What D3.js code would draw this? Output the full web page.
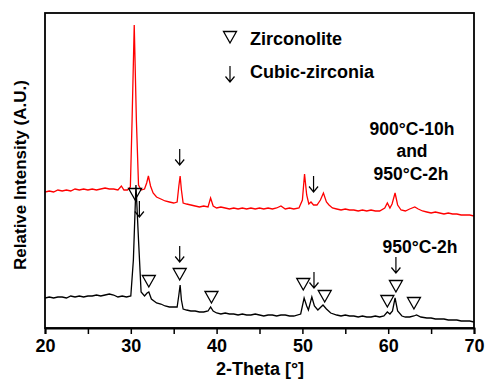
<!DOCTYPE html>
<html>
<head>
<meta charset="utf-8">
<script src="https://cdn.jsdelivr.net/npm/d3@7"></script>
<style>
  html, body { margin: 0; padding: 0; background: #fff; }
  svg { display: block; }
  text { font-family: Arial, "Liberation Sans", sans-serif; font-weight: bold; fill: #000; }
</style>
</head>
<body>
<script>
// ---- data (2-Theta in degrees, intensity in arbitrary units) ----
const redTheta = [20,20.5,21,21.5,22,22.5,23,23.5,24,24.5,25,25.5,26,26.5,27,27.5,28,28.5,28.9,29.2,29.6,29.95,30.15,30.4,30.65,30.9,31.2,31.6,31.85,32.05,32.3,32.6,33,33.5,34,34.5,35,35.4,35.6,35.75,35.9,36.1,36.5,37,37.5,38,38.5,39,39.3,39.6,40,40.5,41,41.5,42,42.5,43,43.5,44,44.5,45,45.5,46,46.5,47,47.5,48,48.5,49,49.6,50,50.25,50.5,50.75,51,51.3,51.7,52.1,52.45,52.8,53.1,53.5,54,54.5,55,55.5,56,56.5,57,57.5,58,58.5,59,59.6,59.9,60.2,60.45,60.8,61.1,61.5,62,62.5,63.1,63.5,64,64.5,65,65.5,66,66.5,67,67.5,68,68.5,69,69.5,70];
const redIntensity = [136,137,136,138,137,138,137,139,138,139,138,139,138,139,140,139,139,138,142,138,138,141,208,303,208,143,138,139,145,152,142,135,131,129,127,126,125,126,142,152,138,125,124,123,122,121,122,121,130,122,120,121,120,119,120,119,120,119,120,119,120,119,120,119,120,122,119,120,119,120,128,154,133,124,126,123,123,128,135,126,123,120,119,118,119,118,118,117,118,117,118,117,117,120,125,120,124,135,123,118,117,119,121,119,117,116,115,116,115,114,115,114,114,113,113,113,112];

const blackTheta = [20,20.5,21,21.5,22,22.5,23,23.5,24,24.5,25,25.5,26,26.5,27,27.5,28,28.5,29,29.5,30,30.3,30.6,30.9,31.2,31.6,31.9,32.1,32.4,33,33.5,34,34.5,35,35.4,35.6,35.75,35.9,36.1,36.5,37,37.5,38,38.5,39,39.3,39.6,40,40.5,41,41.5,42,42.5,43,43.5,44,44.5,45,45.5,46,46.5,47,47.5,48,48.5,49,49.8,50.2,50.5,50.7,51.1,51.4,51.8,52.4,52.8,53.3,54,54.5,55,55.5,56,56.5,57,57.5,58,58.5,59,59.5,59.9,60.2,60.5,60.8,61.1,61.6,62,62.5,63,63.3,63.8,64.5,65,65.5,66,66.5,67,67.5,68,68.5,69,69.5,70];
const blackIntensity = [30,31,30,31,31,30,32,31,32,31,32,32,33,32,33,34,33,31,32,31,32,68,143,88,36,32,35,36,29,25,24,22,21,21,21,33,43,28,19,18,17,17,16,16,17,21,17,15,14,15,14,14,13,14,13,13,14,13,12,13,13,12,13,13,12,12,14,30,22,18,31,22,18,23,19,15,13,12,13,12,12,11,12,11,11,12,11,12,16,14,17,30,17,12,11,11,12,13,11,10,10,9,9,9,8,8,8,7,7,7,6];

// Zirconolite markers (position, intensity at marker tip)
const zirconoliteTheta = [30.5, 32.1, 35.7, 39.4, 50.1, 52.6, 59.9, 60.9, 63.0];
const zirconoliteLevel = [128, 41, 48, 25, 38, 26, 21, 36, 19];
// Cubic-zirconia markers
const zirconiaTheta = [31.0, 35.7, 51.35, 60.9, 35.7, 51.3];
const zirconiaLevel = [111, 66, 40, 55, 163, 136];

const xTicks = [20, 30, 40, 50, 60, 70];
const xMinorTicks = [25, 35, 45, 55, 65];

// ---- layout ----
const W = 486, H = 379;
const L = 45, R = 474, T = 13, B = 328;

const svg = d3.select("body").append("svg").attr("width", W).attr("height", H);

const x = d3.scaleLinear().domain([20, 70]).range([L, R]);
const y = d3.scaleLinear().domain([0, 315]).range([B, T]);

const line = d3.line().x(d => x(d[0])).y(d => y(d[1]));

svg.append("clipPath").attr("id", "c").append("rect")
  .attr("x", L).attr("y", T).attr("width", R - L).attr("height", B - T);

const g = svg.append("g").attr("clip-path", "url(#c)");
g.append("path").datum(d3.zip(blackTheta, blackIntensity))
  .attr("d", line).attr("fill", "none").attr("stroke", "#000").attr("stroke-width", 1.3);
g.append("path").datum(d3.zip(redTheta, redIntensity))
  .attr("d", line).attr("fill", "none").attr("stroke", "#ff0000").attr("stroke-width", 1.3);

// markers
function tri(sel, cx, by) {
  sel.append("path")
    .attr("d", `M${cx - 6.5},${by - 11.5}L${cx + 6.5},${by - 11.5}L${cx},${by}Z`)
    .attr("fill", "none").attr("stroke", "#000").attr("stroke-width", 1.3);
}
function arrow(sel, cx, by) {
  sel.append("path")
    .attr("d", `M${cx},${by - 16}L${cx},${by}M${cx - 4.5},${by - 5.5}L${cx},${by}L${cx + 4.5},${by - 5.5}`)
    .attr("fill", "none").attr("stroke", "#000").attr("stroke-width", 1.2);
}
const mk = svg.append("g");
zirconoliteTheta.forEach((t, i) => tri(mk, x(t), y(zirconoliteLevel[i])));
zirconiaTheta.forEach((t, i) => arrow(mk, x(t), y(zirconiaLevel[i])));

// legend
tri(mk, 230, 43);
arrow(mk, 230, 82);
svg.append("text").attr("x", 250).attr("y", 45).style("font-size", "18px").text("Zirconolite");
svg.append("text").attr("x", 250).attr("y", 78).style("font-size", "18px").text("Cubic-zirconia");

// series labels
const lab = svg.append("g").attr("text-anchor", "middle").style("font-size", "17.5px");
lab.append("text").attr("x", 412).attr("y", 135).text("900°C-10h");
lab.append("text").attr("x", 412).attr("y", 157).text("and");
lab.append("text").attr("x", 411).attr("y", 180).text("950°C-2h");
lab.append("text").attr("x", 420).attr("y", 253).text("950°C-2h");

// frame
svg.append("rect").attr("x", L).attr("y", T).attr("width", R - L).attr("height", B - T)
  .attr("fill", "none").attr("stroke", "#000").attr("stroke-width", 1.8);

// x axis
const ax = svg.append("g").attr("transform", `translate(0,${B})`)
  .call(d3.axisBottom(x).tickValues(xTicks).tickSize(6).tickPadding(5).tickFormat(d3.format("d")));
ax.select(".domain").attr("stroke-width", 2);
ax.selectAll(".tick line").attr("stroke-width", 1.5);
ax.selectAll(".tick text").style("font-size", "18px").style("font-family", "Arial, 'Liberation Sans', sans-serif").style("font-weight", "bold");
const axm = svg.append("g").attr("transform", `translate(0,${B})`)
  .call(d3.axisBottom(x).tickValues(xMinorTicks).tickSize(6).tickFormat(""));
axm.select(".domain").remove();
axm.selectAll(".tick line").attr("stroke-width", 1.5);

// axis titles
svg.append("text").attr("x", 260).attr("y", 375).attr("text-anchor", "middle")
  .style("font-size", "18px").text("2-Theta [°]");
svg.append("text").attr("transform", `translate(26,175) rotate(-90)`).attr("text-anchor", "middle")
  .style("font-size", "17px").text("Relative Intensity (A.U.)");
</script>
</body>
</html>
